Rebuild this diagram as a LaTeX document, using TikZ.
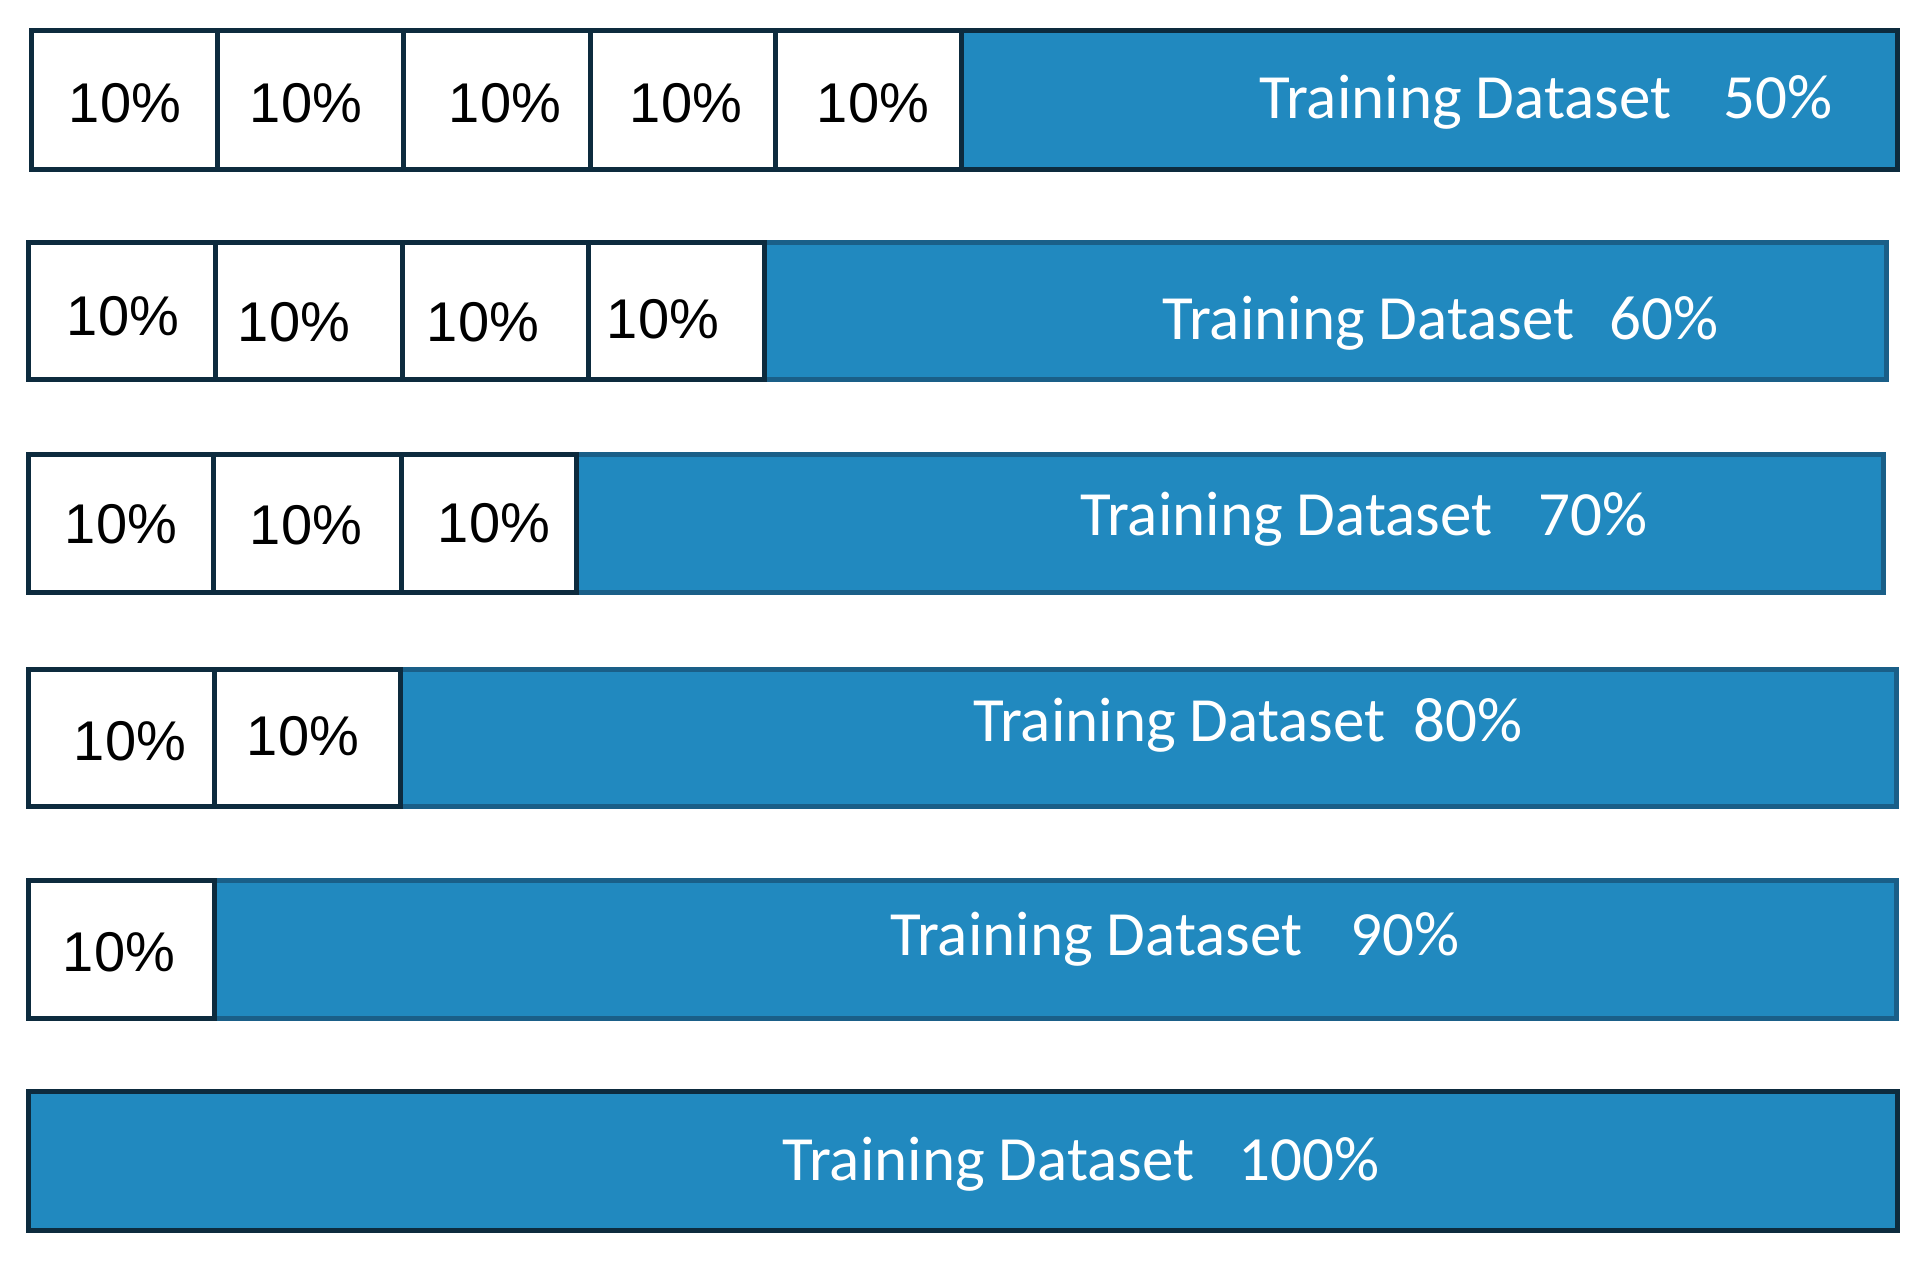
\documentclass[tikz,border=0pt]{standalone}
\usepackage{fontspec}
\setmainfont{Carlito}
\newfontfamily\cellfont{Liberation Sans}
\definecolor{navy}{HTML}{0D2B3E}
\definecolor{barblue}{HTML}{2189BF}
\definecolor{edgeblue}{HTML}{1A5F88}
\begin{document}
\begin{tikzpicture}[x=0.5pt,y=-0.5pt,
  cellbox/.style={draw=navy,line width=2.5pt,fill=white},
  barbox/.style={draw=#1,line width=2.5pt,fill=barblue},
  pct/.style={font=\cellfont\fontsize{28}{30}\selectfont,text=black,anchor=base,inner sep=0pt},
  trn/.style={font=\fontsize{31.5}{33}\selectfont,text=white,anchor=base west,inner sep=0pt}]
\useasboundingbox (0,0) rectangle (1922,1262);

% Row 1
\draw[barbox=navy] (961,31) rectangle (1897,170);
\foreach \a/\b in {31/217,217/403,403/590,590/775,775/961}
  \draw[cellbox] (\a,31) rectangle (\b,170);
\node[pct] (r1c1) at (125,123) {10\%};
\node[pct] (r1c2) at (306,123) {10\%};
\node[pct] (r1c3) at (505,123) {10\%};
\node[pct] (r1c4) at (686,123) {10\%};
\node[pct] (r1c5) at (873,123) {10\%};
\node[trn] (r1t) at (1259,119) {Training Dataset};
\node[trn] (r1p) at (1723,119) {50\%};

% Row 2
\draw[barbox=edgeblue] (764,243) rectangle (1886,380);
\foreach \a/\b in {28/215,215/402,402/588,588/764}
  \draw[cellbox] (\a,243) rectangle (\b,380);
\node[pct] (r2c1) at (123,336) {10\%};
\node[pct] (r2c2) at (294,342) {10\%};
\node[pct] (r2c3) at (483,342) {10\%};
\node[pct] (r2c4) at (663,339) {10\%};
\node[trn] (r2t) at (1162,340) {Training Dataset};
\node[trn] (r2p) at (1609,340) {60\%};

% Row 3
\draw[barbox=edgeblue] (576,455) rectangle (1883,592);
\foreach \a/\b in {28/213,213/401,401/576}
  \draw[cellbox] (\a,455) rectangle (\b,592);
\node[pct] (r3c1) at (121,543) {10\%};
\node[pct] (r3c2) at (306,545) {10\%};
\node[pct] (r3c3) at (494,542) {10\%};
\node[trn] (r3t) at (1080,535) {Training Dataset};
\node[trn] (r3p) at (1538,535) {70\%};

% Row 4
\draw[barbox=edgeblue] (400,669) rectangle (1896,806);
\foreach \a/\b in {28/214,214/400}
  \draw[cellbox] (\a,669) rectangle (\b,806);
\node[pct] (r4c1) at (130,760) {10\%};
\node[pct] (r4c2) at (303,755) {10\%};
\node[trn] (r4t) at (973,741) {Training Dataset};
\node[trn] (r4p) at (1413,741) {80\%};

% Row 5
\draw[barbox=edgeblue] (214,880) rectangle (1896,1018);
\draw[cellbox] (28,880) rectangle (214,1018);
\node[pct] (r5c1) at (119,971) {10\%};
\node[trn] (r5t) at (890,955) {Training Dataset};
\node[trn] (r5p) at (1350,955) {90\%};

% Row 6
\draw[barbox=navy] (28,1091) rectangle (1897,1230);
\node[trn] (r6t) at (782,1180) {Training Dataset};
\node[trn] (r6p) at (1238,1180) {100\%};
\end{tikzpicture}
\end{document}
